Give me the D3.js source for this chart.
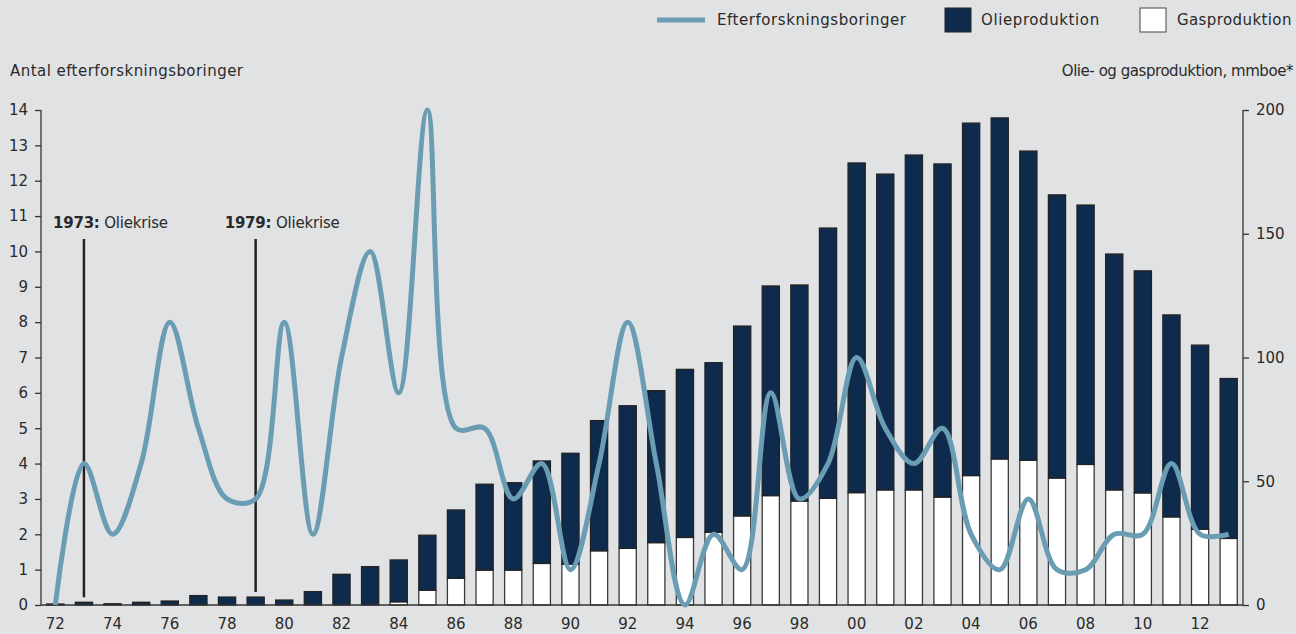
<!DOCTYPE html>
<html><head><meta charset="utf-8">
<script src="https://cdn.jsdelivr.net/npm/d3@7"></script>
<style>
html,body{margin:0;padding:0;background:#e1e2e4;}
svg{display:block;font-family:"DejaVu Sans",sans-serif;}
</style></head>
<body><svg id="c" width="1296" height="634"></svg>
<script>
const years = [1972,1973,1974,1975,1976,1977,1978,1979,1980,1981,1982,1983,1984,1985,1986,1987,1988,1989,1990,1991,1992,1993,1994,1995,1996,1997,1998,1999,2000,2001,2002,2003,2004,2005,2006,2007,2008,2009,2010,2011,2012,2013];
const wells = [0,4,2,4,8,5,3,3,8,2,7,10,6,14,5,5,3,4,1,4,8,4,0,2,1,6,3,4,7,5,4,5,2,1,3,1,1,2,2,4,2,2];
const gas = [0,0,0,0,0,0,0,0,0,0,0,0,1.3,6,10.8,14.1,14.1,16.8,16.5,21.9,22.9,25.2,27.3,29.4,36,44.2,42,43.1,45.4,46.5,46.5,43.6,52.3,59,58.5,51.3,56.8,46.5,45.3,35.6,30.6,26.9];
const oil = [0.4,1.1,0.5,1.1,1.6,3.8,3.2,3.2,2.0,5.4,12.4,15.5,16.9,22.2,27.6,34.7,35.3,41.4,44.8,52.6,57.6,61.4,67.9,68.5,76.7,84.7,87.3,109.2,133.2,127.6,135.3,134.6,142.4,137.8,124.9,114.4,104.8,95.3,89.7,81.6,74.4,64.6];
const leftTicks = [0,1,2,3,4,5,6,7,8,9,10,11,12,13,14];
const rightTicks = [0,50,100,150,200];
const xTickYears = [1972,1974,1976,1978,1980,1982,1984,1986,1988,1990,1992,1994,1996,1998,2000,2002,2004,2006,2008,2010,2012];
const crises = [{year:1973,bold:"1973:",text:" Oliekrise"},{year:1979,bold:"1979:",text:" Oliekrise"}];
const legendItems = ["Efterforskningsboringer","Olieproduktion","Gasproduktion"];
const leftTitle = "Antal efterforskningsboringer";
const rightTitle = "Olie- og gasproduktion, mmboe*";

const svg = d3.select("#c");
const L = 41, R = 1243, T = 110, B = 605;
const FS = "15px", FF = "DejaVu Sans";
const x = d3.scaleBand().domain(years).range([L,R]).paddingInner(0.4).paddingOuter(0.2);
const yL = d3.scaleLinear().domain([0,14]).range([B,T]);
const yR = d3.scaleLinear().domain([0,200]).range([B,T]);
const navy = "#0e2b4d", lineC = "#6a9cb3", txt = "#2a2a2a";

// bars
const g = svg.append("g");
years.forEach((yr,i)=>{
  const bx = x(yr), bw = x.bandwidth();
  if (gas[i] > 0) {
    g.append("rect").attr("x",bx).attr("width",bw)
      .attr("y",yR(gas[i])).attr("height",yR(0)-yR(gas[i]))
      .attr("fill","#fff").attr("stroke","#3a3a3a").attr("stroke-width",1.3);
  }
  g.append("rect").attr("x",bx).attr("width",bw)
    .attr("y",yR(gas[i]+oil[i])).attr("height",yR(gas[i])-yR(gas[i]+oil[i]))
    .attr("fill",navy).attr("stroke","#222").attr("stroke-width",1.3);
});

// axes
const axL = svg.append("g").attr("transform",`translate(${L},0)`)
  .call(d3.axisLeft(yL).tickValues(leftTicks).tickSize(6).tickPadding(7).tickFormat(d3.format("d")));
const axR = svg.append("g").attr("transform",`translate(${R},0)`)
  .call(d3.axisRight(yR).tickValues(rightTicks).tickSize(6).tickPadding(7));
const axB = svg.append("g").attr("transform",`translate(0,${B})`)
  .call(d3.axisBottom(x).tickValues(xTickYears).tickSize(0).tickPadding(13).tickFormat(d=>String(d).slice(2)));
[axL,axR,axB].forEach(a=>{
  a.selectAll("path,line").attr("stroke","#333").attr("stroke-width",1.3);
  a.selectAll("text").attr("fill",txt).style("font-size",FS).style("font-family",FF);
});
axL.select(".domain").attr("d",`M0,${T}V${B}`);
axR.select(".domain").attr("d",`M0,${T}V${B}`);
axB.select(".domain").attr("d",`M${L},0H${R}`);

// crisis annotations
crises.forEach(c=>{
  const i = years.indexOf(c.year);
  const cx = x(c.year)+x.bandwidth()/2;
  svg.append("line").attr("x1",cx).attr("x2",cx).attr("y1",239).attr("y2",yR(gas[i]+oil[i])-5)
    .attr("stroke","#222").attr("stroke-width",2.5);
  const t = svg.append("text").attr("x",cx-31).attr("y",228).attr("fill",txt).style("font-size",FS).style("letter-spacing","-0.2px");
  t.append("tspan").attr("font-weight","bold").text(c.bold);
  t.append("tspan").text(c.text);
});

// line
const line = d3.line().x((d,i)=>x(years[i])+x.bandwidth()/2).y(d=>yL(d)).curve(d3.curveCatmullRom.alpha(0.5));
svg.append("path").datum(wells).attr("d",line).attr("fill","none")
  .attr("stroke",lineC).attr("stroke-width",5).attr("stroke-linecap","butt").attr("stroke-linejoin","round");

// titles
svg.append("text").attr("x",10).attr("y",76).attr("fill",txt).style("font-size",FS).style("letter-spacing","0.45px").text(leftTitle);
svg.append("text").attr("x",1293).attr("y",76).attr("text-anchor","end").attr("fill",txt).style("font-size",FS).style("letter-spacing","-0.45px").text(rightTitle);

// legend
const lg = svg.append("g");
lg.append("line").attr("x1",657).attr("x2",705).attr("y1",20).attr("y2",20).attr("stroke",lineC).attr("stroke-width",5);
lg.append("text").attr("x",717).attr("y",25).attr("fill",txt).style("font-size",FS).style("letter-spacing","0.55px").text(legendItems[0]);
lg.append("rect").attr("x",945).attr("y",8).attr("width",26).attr("height",24).attr("fill",navy).attr("stroke","#222").attr("stroke-width",1);
lg.append("text").attr("x",981).attr("y",25).attr("fill",txt).style("font-size",FS).style("letter-spacing","0.6px").text(legendItems[1]);
lg.append("rect").attr("x",1140).attr("y",8).attr("width",26).attr("height",24).attr("fill","#fff").attr("stroke","#444").attr("stroke-width",1);
lg.append("text").attr("x",1177).attr("y",25).attr("fill",txt).style("font-size",FS).style("letter-spacing","0.4px").text(legendItems[2]);
</script></body></html>
